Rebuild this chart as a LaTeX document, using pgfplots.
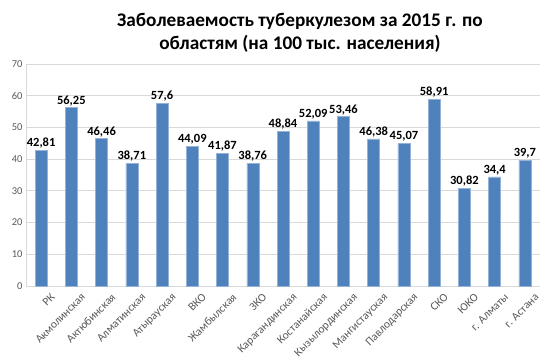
\documentclass[border=0pt]{standalone}
\usepackage{pgfplots}
\pgfplotsset{compat=1.18}
\usepackage{fontspec}
\setmainfont{Carlito}
\definecolor{barblue}{HTML}{4F81BD}
\definecolor{gridgray}{HTML}{D9D9D9}
\definecolor{ticktext}{HTML}{595959}
\begin{document}
\begin{tikzpicture}
\path[use as bounding box] (0,0) rectangle (548bp,364bp);
\node[align=center,font=\fontsize{19.25bp}{23bp}\selectfont\bfseries,anchor=north,inner sep=0pt] at (300bp,364bp-13bp)
  {Заболеваемость туберкулезом за 2015 г. по\\областям (на 100 тыс. населения)};
\begin{axis}[
  at={(26bp,78bp)}, anchor=south west,
  scale only axis, width=514bp, height=222bp,
  ymin=0, ymax=70, ytick={0,10,...,70},
  xmin=-0.5, xmax=16.5,
  xtick={0,...,16},
  xticklabels={РК,Акмолинская,Актюбинская,Алматинская,Атырауская,ВКО,Жамбылская,ЗКО,Карагандинская,Костанайская,Кызылординская,Мангистауская,Павлодарская,СКО,ЮКО,г. Алматы,г. Астана},
  x tick label style={rotate=45,anchor=north east,font=\fontsize{11.5bp}{13bp}\selectfont,text=ticktext,inner sep=0pt,xshift=2bp,yshift=-11bp},
  y tick label style={font=\fontsize{10.5bp}{12bp}\selectfont,text=ticktext},
  /pgf/number format/assume math mode=true,
  ymajorgrids, grid style={gridgray,line width=0.75bp},
  axis line style={gridgray,line width=0.75bp},
  axis x line*=bottom, axis y line*=left,
  major tick length=0pt,
  ybar, bar width=12bp,
  nodes near coords={\pgfmathprintnumber[use comma,precision=2]{\pgfplotspointmeta}},
  every node near coord/.append style={font=\fontsize{12.5bp}{14bp}\selectfont\bfseries,text=black,inner sep=1.5bp},
  clip=false,
]
\addplot[fill=barblue,draw=barblue!60!white,line width=0.5bp] coordinates {
(0,42.81) (1,56.25) (2,46.46) (3,38.71) (4,57.6) (5,44.09) (6,41.87) (7,38.76) (8,48.84)
(9,52.09) (10,53.46) (11,46.38) (12,45.07) (13,58.91) (14,30.82) (15,34.4) (16,39.7)};
\end{axis}
\end{tikzpicture}
\end{document}
